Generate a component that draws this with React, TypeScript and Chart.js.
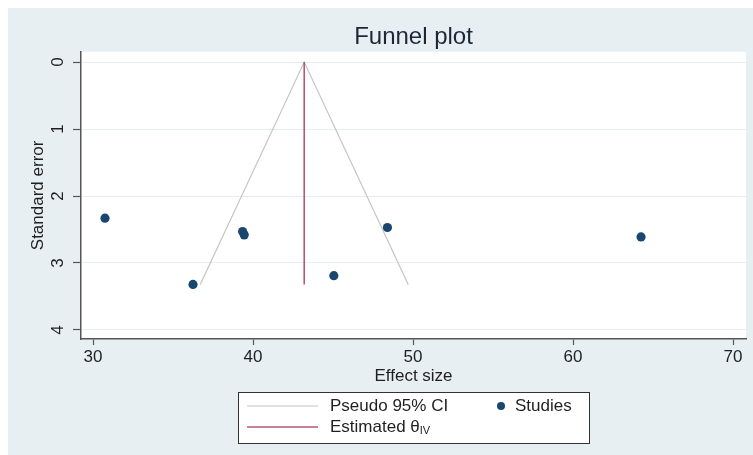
import React, { useEffect, useRef } from "react";
import { Chart, registerables } from "chart.js";

Chart.register(...registerables);

// ---- data ----
const studyEffect = [30.75, 36.25, 39.35, 39.45, 45.05, 48.4, 64.25];
const studySE = [2.33, 3.32, 2.53, 2.58, 3.19, 2.47, 2.61];
const ciX = [36.7, 43.2, 49.7];
const ciY = [3.32, 0, 3.32];
const thetaX = [43.2, 43.2];
const thetaY = [0, 3.32];
const xTicks = [30, 40, 50, 60, 70];
const yTicks = [0, 1, 2, 3, 4];

const FONT = "'Liberation Sans', Arial, Helvetica, sans-serif";
const PANEL = "#e8eff3";
const NAVY = "#1a476f";
const CI_COLOR = "#c4c4c4";
const THETA_COLOR = "#b8567a";
const TEXT = "#1f1f1f";
const AXIS = "#555555";

const bgPlugin = {
  id: "bgPanel",
  beforeDraw(chart: any) {
    const { ctx, width, height, chartArea } = chart;
    ctx.save();
    ctx.fillStyle = PANEL;
    ctx.fillRect(0, 0, width, height);
    ctx.fillStyle = "#ffffff";
    ctx.fillRect(chartArea.left, chartArea.top, chartArea.right - chartArea.left, chartArea.bottom - chartArea.top);
    ctx.restore();
  },
};

const legendPlugin = {
  id: "boxLegend",
  afterDraw(chart: any) {
    const { ctx } = chart;
    ctx.save();
    const bx = 230, by = 384, bw = 351, bh = 51;
    ctx.fillStyle = "#ffffff";
    ctx.fillRect(bx, by, bw, bh);
    ctx.strokeStyle = "#333333";
    ctx.lineWidth = 1;
    ctx.strokeRect(bx + 0.5, by + 0.5, bw, bh);
    const r1 = 398, r2 = 419;
    // CI sample
    ctx.strokeStyle = CI_COLOR;
    ctx.lineWidth = 1.2;
    ctx.beginPath();
    ctx.moveTo(239, r1);
    ctx.lineTo(310, r1);
    ctx.stroke();
    // theta sample
    ctx.strokeStyle = THETA_COLOR;
    ctx.lineWidth = 1.5;
    ctx.beginPath();
    ctx.moveTo(239, r2);
    ctx.lineTo(310, r2);
    ctx.stroke();
    // studies dot
    ctx.fillStyle = NAVY;
    ctx.beginPath();
    ctx.arc(493, r1, 4, 0, Math.PI * 2);
    ctx.fill();
    // texts
    ctx.fillStyle = TEXT;
    ctx.font = `17px ${FONT}`;
    ctx.textBaseline = "middle";
    ctx.textAlign = "left";
    ctx.fillText("Pseudo 95% CI", 322, r1);
    ctx.fillText("Studies", 507, r1);
    const est = "Estimated θ";
    ctx.fillText(est, 322, r2);
    const w = ctx.measureText(est).width;
    ctx.font = `11px ${FONT}`;
    ctx.fillText("IV", 322 + w, r2 + 4);
    ctx.restore();
  },
};

export default function App() {
  const ref = useRef<HTMLCanvasElement | null>(null);
  useEffect(() => {
    if (!ref.current) return;
    const chart = new Chart(ref.current, {
      type: "scatter",
      data: {
        datasets: [
          {
            label: "Studies",
            data: studyEffect.map((x, i) => ({ x, y: studySE[i] })),
            backgroundColor: NAVY,
            borderColor: NAVY,
            pointRadius: 4.6,
            pointBorderWidth: 0,
            order: 0,
          },
          {
            label: "Pseudo 95% CI",
            data: ciX.map((x, i) => ({ x, y: ciY[i] })),
            showLine: true,
            borderColor: CI_COLOR,
            borderWidth: 1.2,
            pointRadius: 0,
            order: 2,
          },
          {
            label: "Estimated θIV",
            data: thetaX.map((x, i) => ({ x, y: thetaY[i] })),
            showLine: true,
            borderColor: THETA_COLOR,
            borderWidth: 1.6,
            pointRadius: 0,
            order: 1,
          },
        ],
      },
      options: {
        animation: false,
        responsive: false,
        maintainAspectRatio: false,
        layout: { padding: { left: 0, right: 7, top: 0, bottom: 68 } },
        plugins: {
          legend: { display: false },
          tooltip: { enabled: false },
          title: {
            display: true,
            text: "Funnel plot",
            fullSize: false,
            color: "#1c2838",
            font: { family: FONT, size: 24, weight: "normal" },
            padding: { top: 15, bottom: 0 },
          },
        },
        scales: {
          x: {
            type: "linear",
            min: 29.25,
            max: 70.81,
            afterBuildTicks: (s: any) => {
              s.ticks = xTicks.map((v) => ({ value: v }));
            },
            afterFit: (s: any) => {
              s.height = 48;
            },
            grid: {
              display: true,
              drawOnChartArea: false,
              drawTicks: true,
              tickLength: 6,
              tickColor: AXIS,
              tickWidth: 1.2,
            },
            border: { display: true, color: AXIS, width: 1.5 },
            ticks: {
              color: TEXT,
              font: { family: FONT, size: 17 },
              padding: 2,
              maxRotation: 0,
              autoSkip: false,
            },
            title: {
              display: true,
              text: "Effect size",
              color: TEXT,
              font: { family: FONT, size: 17 },
              padding: { top: 0, bottom: 0 },
            },
          },
          y: {
            type: "linear",
            reverse: true,
            min: -0.154,
            max: 4.135,
            afterBuildTicks: (s: any) => {
              s.ticks = yTicks.map((v) => ({ value: v }));
            },
            afterFit: (s: any) => {
              s.width = 73;
            },
            grid: {
              display: true,
              color: "#e6eef1",
              lineWidth: 1,
              drawTicks: true,
              tickLength: 8,
              tickColor: AXIS,
              tickWidth: 1.2,
            },
            border: { display: true, color: AXIS, width: 1.5 },
            ticks: {
              color: TEXT,
              font: { family: FONT, size: 17 },
              padding: 10,
              minRotation: 90,
              maxRotation: 90,
              crossAlign: "center",
              autoSkip: false,
            },
            title: {
              display: true,
              text: "Standard error",
              color: TEXT,
              font: { family: FONT, size: 17 },
              padding: { top: 20, bottom: 0 },
            },
          },
        },
      },
      plugins: [bgPlugin, legendPlugin],
    } as any);
    return () => chart.destroy();
  }, []);
  return (
    <div style={{ position: "fixed", left: 8, top: 8, width: 745, height: 447 }}>
      <canvas ref={ref} width={745} height={447} style={{ width: 745, height: 447, display: "block" }} />
    </div>
  );
}
